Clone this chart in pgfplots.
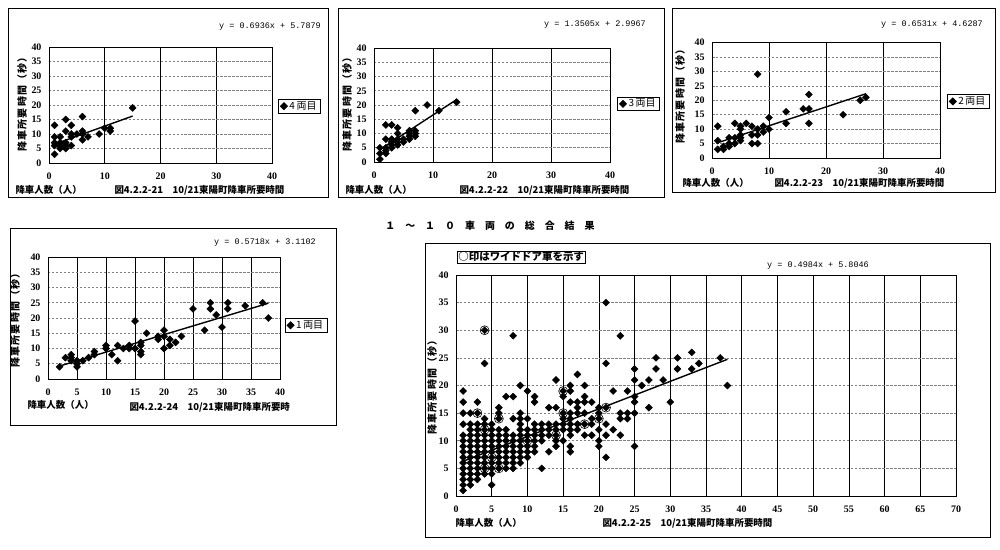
\documentclass[border=0pt]{standalone}
\usepackage{fontspec}
\setmainfont{Liberation Serif}
\newfontfamily\jp{Noto Sans CJK JP}
\newfontfamily\jpwide[LetterSpace=100]{Noto Sans CJK JP}
\newfontfamily\jpy[LetterSpace=12]{Noto Sans CJK JP}
\newfontfamily\mono{Liberation Mono}
\usepackage{pgfplots}
\pgfplotsset{compat=1.18}

\newcommand{\eqf}{\mono\fontsize{8.5}{10}\selectfont}
\newcommand{\jpf}{\jp\bfseries\fontsize{9.5}{11}\selectfont}
\newcommand{\jpyf}{\jpy\bfseries\fontsize{10}{11}\selectfont}

\pgfplotsset{
  panel/.style={
    scale only axis, anchor=south west,
    xmin=0, ymin=0, ymax=40, ytick={0,5,...,40},
    xmajorgrids, ymajorgrids,
    major x grid style={black, line width=0.7pt},
    major y grid style={black!50, dash pattern=on 2.5pt off 1.5pt, line width=0.6pt},
    axis line style={black, line width=0.9pt},
    major tick length=0pt,
    /pgf/number format/assume math mode=true,
    tick label style={font=\bfseries\fontsize{10}{10}\selectfont},
    xticklabel style={yshift=-6bp},
    yticklabel style={xshift=-4bp},
    legend style={draw=black, line width=0.8pt, font=\jp\fontsize{10}{11}\selectfont,
      inner xsep=2pt, inner ysep=0.3pt, anchor=west},
    legend cell align=left,
  },
  pts/.style={only marks, mark=square*, mark size=2.5pt, mark options={rotate=45}, black},
  fit/.style={black, line width=1.4pt, forget plot},
  wide/.style={only marks, mark=o, mark size=4.5pt, black, line width=0.6pt, forget plot},
}

\begin{document}
\begin{tikzpicture}[x=1bp,y=-1bp]
\fill[white] (0,0) rectangle (1000,550);
% panel frames
\draw[line width=0.8pt] (8,8) rectangle (328,197);
\draw[line width=0.8pt] (338,8) rectangle (664,197);
\draw[line width=0.8pt] (672,8) rectangle (995,192);
\draw[line width=0.8pt] (10,228) rectangle (336,425);
\draw[line width=0.8pt] (425,243) rectangle (990,537);

% 4 cars
\begin{axis}[panel, at={(49bp,-163bp)}, width=223bp, height=116bp,
  xmax=40, xtick={0,10,20,30,40}, legend style={at={(1.027,0.49)}}]
\addplot[pts] coordinates {
(1,13)(1,9)(1,7)(1,6)(1,3)(2,9)(2,7)(2,6)(2,5)(3,15)(3,11)(3,7)(3,6)(3,5)
(4,13)(4,10)(4,9)(4,6)(5,10)(6,16)(6,11)(6,10)(6,8)(7,9)(9,10)(10,12)
(11,11)(11,12)(15,19)};
\addlegendentry{4\,両目}
\addplot[fit] coordinates {(1,6.48) (15,16.19)};
\end{axis}
\node[font=\eqf] at (270,27) {y = 0.6936x + 5.7879};
\node[font=\jpyf, rotate=90] at (22,102) {降車所要時間（秒）};
\node[font=\jpf, anchor=west] at (12,190) {降車人数（人）};
\node[font=\jpf, anchor=west] at (111,190) {図4.2.2-21　10/21東陽町降車所要時間};

% 3 cars
\begin{axis}[panel, at={(374bp,-162bp)}, width=236bp, height=114bp,
  xmax=40, xtick={0,10,20,30,40}, legend style={at={(1.03,0.51)}}]
\addplot[pts] coordinates {
(1,1)(1,3)(1,5)(2,3)(2,4)(2,5)(2,8)(2,13)(3,13)(3,8)(3,7)(3,6)(3,5)
(4,12)(4,10)(4,8)(4,7)(4,6)(5,7)(5,8)(6,8)(6,9)(6,10)(6,11)
(7,18)(7,11)(7,10)(7,9)(9,20)(11,18)(14,21)};
\addlegendentry{3\,両目}
\addplot[fit] coordinates {(1,4.35) (14,21.90)};
\end{axis}
\node[font=\eqf] at (595,25) {y = 1.3505x + 2.9967};
\node[font=\jpyf, rotate=90] at (347,102) {降車所要時間（秒）};
\node[font=\jpf, anchor=west] at (342,190) {降車人数（人）};
\node[font=\jpf, anchor=west] at (456,190) {図4.2.2-22　10/21東陽町降車所要時間};

% 2 cars
\begin{axis}[panel, at={(712bp,-158bp)}, width=228bp, height=115.5bp,
  xmax=40, xtick={0,10,20,30,40}, legend style={at={(1.03,0.49)}}]
\addplot[pts] coordinates {
(1,11)(1,6)(1,3)(2,4)(2,3)(3,7)(3,5)(3,4)(4,12)(4,7)(4,5)
(5,11)(5,10)(5,8)(5,7)(5,6)(6,12)(7,11)(7,8)(7,5)(8,29)(8,10)(8,8)(8,5)
(9,11)(9,9)(10,14)(10,10)(13,16)(13,12)(16,17)(17,22)(17,17)(17,12)
(23,15)(26,20)(27,21)};
\addlegendentry{2\,両目}
\addplot[fit] coordinates {(1,5.28) (27,22.26)};
\end{axis}
\node[font=\eqf] at (932,25) {y = 0.6531x + 4.6287};
\node[font=\jpyf, rotate=90] at (680,94) {降車所要時間（秒）};
\node[font=\jpf, anchor=west] at (679,183) {降車人数（人）};
\node[font=\jpf, anchor=west] at (771,183) {図4.2.2-23　10/21東陽町降車所要時間};

% 1 car
\begin{axis}[panel, at={(48bp,-379bp)}, width=232bp, height=122bp,
  xmax=40, xtick={0,5,...,40}, legend style={at={(1.02,0.44)}}]
\addplot[pts] coordinates {
(2,4)(3,7)(4,8)(4,7)(4,6)(5,6)(5,5)(5,4)(6,6)(7,7)(8,9)(8,8)(10,11)(10,10)
(11,8)(12,11)(12,6)(13,10)(14,11)(14,10)(15,19)(15,10)(16,12)(16,11)(16,9)(16,8)
(17,15)(19,14)(19,13)(20,16)(20,14)(20,10)(21,13)(21,11)(22,12)(23,14)
(25,23)(27,16)(28,25)(28,23)(29,21)(30,17)(31,25)(31,23)(34,24)(37,25)(38,20)};
\addlegendentry{1\,両目}
\addplot[fit] coordinates {(2,4.25) (38,24.84)};
\end{axis}
\node[font=\eqf] at (265,243) {y = 0.5718x + 3.1102};
\node[font=\jpyf, rotate=90] at (15,318) {降車所要時間（秒）};
\node[font=\jpf, anchor=west] at (24,405) {降車人数（人）};
\node[font=\jpf, anchor=west] at (126,407) {図4.2.2-24　10/21東陽町降車所要時};

\node[font=\jpwide\bfseries\fontsize{10}{12}\selectfont] at (490,226) {１～１０車両の総合結果};

% all cars
\begin{axis}[panel, at={(456bp,-496bp)}, width=500bp, height=221bp,
  xmax=70, xtick={0,5,...,70}]
\addplot[pts] coordinates {
(1,1)(1,2)(1,3)(1,4)(1,5)(1,6)(1,7)(1,8)(1,9)(1,10)(1,11)(1,13)(1,15)(1,17)(1,19)
(2,2)(2,3)(2,4)(2,5)(2,6)(2,7)(2,8)(2,9)(2,10)(2,11)(2,12)(2,13)(2,15)
(3,3)(3,4)(3,5)(3,6)(3,7)(3,8)(3,9)(3,10)(3,11)(3,12)(3,13)(3,15)(3,17)
(4,4)(4,5)(4,6)(4,7)(4,8)(4,9)(4,10)(4,11)(4,12)(4,13)(4,14)(4,24)(4,30)
(5,2)(5,4)(5,5)(5,6)(5,7)(5,8)(5,9)(5,10)(5,11)(5,12)(5,13)
(6,5)(6,6)(6,7)(6,8)(6,9)(6,10)(6,11)(6,12)(6,14)(6,15)(6,16)
(7,5)(7,6)(7,7)(7,8)(7,9)(7,10)(7,11)(7,12)(7,18)
(8,5)(8,6)(8,7)(8,8)(8,9)(8,10)(8,11)(8,14)(8,18)(8,29)
(9,6)(9,7)(9,8)(9,9)(9,10)(9,11)(9,12)(9,13)(9,14)(9,15)(9,20)
(10,7)(10,8)(10,9)(10,10)(10,11)(10,12)(10,14)(10,19)
(11,8)(11,9)(11,10)(11,11)(11,12)(11,13)(11,17)(11,18)
(12,5)(12,10)(12,11)(12,12)(12,13)
(13,8)(13,11)(13,12)(13,13)(13,16)
(14,9)(14,10)(14,11)(14,12)(14,13)(14,16)(14,21)
(15,10)(15,12)(15,13)(15,14)(15,15)(15,18)(15,19)
(16,8)(16,9)(16,11)(16,12)(16,13)(16,14)(16,15)(16,17)(16,19)(16,20)
(17,12)(17,13)(17,15)(17,16)(17,17)(17,22)
(18,11)(18,13)(18,15)(18,17)(18,18)(18,20)
(19,11)(19,13)(19,14)(19,17)
(20,9)(20,10)(20,12)(20,14)(20,15)(20,16)
(21,7)(21,11)(21,13)(21,16)(21,24)(21,35)
(22,12)(22,19)
(23,11)(23,14)(23,15)(23,29)
(24,14)(24,15)(24,19)
(25,9)(25,15)(25,17)(25,18)(25,21)(25,23)
(26,20)(27,16)(27,21)(28,23)(28,25)(29,21)(30,17)
(31,23)(31,25)(33,23)(33,26)(34,24)(37,25)(38,20)};
\addplot[wide] coordinates {
(4,30)(3,15)(6,14)(4,12)(5,7)(4,5)(6,5)(10,10)(14,11)
(15,19)(15,15)(18,13)(20,14)(21,16)};
\addplot[fit] coordinates {(1,6.30) (38,24.74)};
\end{axis}
\node[draw, line width=0.8pt, font=\jp\bfseries\fontsize{10.5}{12}\selectfont, anchor=west, inner sep=1pt] at (457,257) {○印はワイドドア車を示す};
\node[font=\eqf] at (818,266) {y = 0.4984x + 5.8046};
\node[font=\jpyf, rotate=90] at (432,385) {降車所要時間（秒）};
\node[font=\jpf, anchor=west] at (452,523) {降車人数（人）};
\node[font=\jpf, anchor=west] at (599,523) {図4.2.2-25　10/21東陽町降車所要時間};
\end{tikzpicture}
\end{document}
